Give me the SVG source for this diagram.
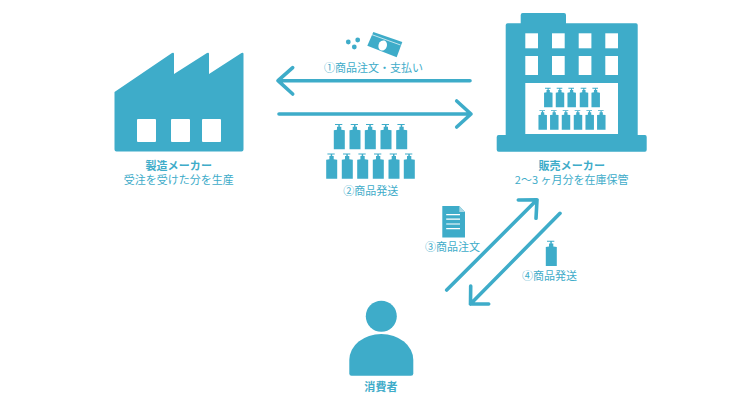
<svg xmlns="http://www.w3.org/2000/svg" width="750" height="400" viewBox="0 0 750 400">
<style>
.t{font-family:"Noto Sans CJK JP","Liberation Sans",sans-serif;font-size:11px;fill:#3eacc9;text-anchor:middle}
.b{font-weight:700;letter-spacing:.1px}
.f{fill:#3eacc9}
.w{fill:#fff}
.a{fill:none;stroke:#3eacc9;stroke-width:3.6;stroke-linecap:round;stroke-linejoin:round}
</style>
<defs>
<g id="bottle"><path class="f" d="M-4.300 0.700H3V1.800H0.500V3.400H2V6.500L5.500 7V26H-5.500V7L-2.300 6.500V3.400H-1V1.800H-4.300Z"/></g>
</defs>
<rect width="750" height="400" fill="#fff"/>
<g id="connectors">
<path class="a" d="M470 80.700H278M292.700 67.700L278 80.700L292.700 94"/>
<path class="a" d="M279 114H471M456.700 101L471 114L456.700 127"/>
<path class="a" d="M446.700 290L537 199.800M518.300 200L537 199.800L536 218.300"/>
<path class="a" d="M560 213.300L470.500 304M470.700 286L470.500 304L488.700 304"/>
</g>
<g id="factory">
<path class="f" d="M114.500 92L172 53Q174 52 174 54V74L207 53Q209 52 209 54V74L241.500 53Q243.500 52 243.500 54V149.500Q243.500 151.500 241.500 151.500H116.500Q114.500 151.500 114.500 149.500Z"/>
<rect class="w" x="137" y="119" width="19" height="23" rx="1"/>
<rect class="w" x="171" y="119" width="19" height="23" rx="1"/>
<rect class="w" x="202" y="119" width="19" height="23" rx="1"/>
<text class="t b" x="178.700" y="170">製造メーカー</text>
<text class="t" x="178.700" y="184">受注を受けた分を生産</text>
</g>
<g id="retailer">
<path class="f" d="M520.700 23.300V15Q520.700 13 522.700 13H564Q566 13 566 15V23.300H636Q637.700 23.300 637.700 25V135H645Q646.700 135 646.700 137V149.700Q646.700 151.700 645 151.700H498.700Q496.700 151.700 496.700 149.700V137Q496.700 135 498.700 135H505.700V25Q505.700 23.300 507.700 23.300Z"/>
<rect class="w" x="525.300" y="33.300" width="12.700" height="15"/>
<rect class="w" x="552" y="33.300" width="12.700" height="15"/>
<rect class="w" x="578.700" y="33.300" width="12.700" height="15"/>
<rect class="w" x="605.300" y="33.300" width="12.700" height="15"/>
<rect class="w" x="525.300" y="56" width="12.700" height="19"/>
<rect class="w" x="552" y="56" width="12.700" height="19"/>
<rect class="w" x="578.700" y="56" width="12.700" height="19"/>
<rect class="w" x="605.300" y="56" width="12.700" height="19"/>
<rect class="w" x="525.300" y="83" width="92.700" height="51"/>
<use href="#bottle" transform="translate(548.300 87.300) scale(.77)"/>
<use href="#bottle" transform="translate(560 87.300) scale(.77)"/>
<use href="#bottle" transform="translate(571.700 87.300) scale(.77)"/>
<use href="#bottle" transform="translate(584 87.300) scale(.77)"/>
<use href="#bottle" transform="translate(595.700 87.300) scale(.77)"/>
<use href="#bottle" transform="translate(542.700 109.700) scale(.77)"/>
<use href="#bottle" transform="translate(554.300 109.700) scale(.77)"/>
<use href="#bottle" transform="translate(566 109.700) scale(.77)"/>
<use href="#bottle" transform="translate(578 109.700) scale(.77)"/>
<use href="#bottle" transform="translate(589.700 109.700) scale(.77)"/>
<use href="#bottle" transform="translate(601.300 109.700) scale(.77)"/>
<text class="t b" x="571.700" y="170">販売メーカー</text>
<text class="t" x="571.700" y="184">2〜3 ヶ月分を在庫保管</text>
</g>
<g id="payment">
<circle class="f" cx="348.300" cy="42" r="2.400"/>
<circle class="f" cx="357.700" cy="40" r="2.400"/>
<circle class="f" cx="354.300" cy="47" r="2.400"/>
<path class="f" d="M373.300 32L402.300 42L396.700 57.300L367.300 45.700Z"/>
<path d="M371.500 34.500L400.500 45" fill="none" stroke="#fff" stroke-width=".7"/>
<ellipse class="w" cx="382.700" cy="45.500" rx="4.200" ry="5.200" transform="rotate(20 382.700 45.500)"/>
<text class="t" x="373.500" y="72">①商品注文・支払い</text>
</g>
<g id="shipment">
<use href="#bottle" transform="translate(339.300 123.300)"/>
<use href="#bottle" transform="translate(355 123.300)"/>
<use href="#bottle" transform="translate(370.300 123.300)"/>
<use href="#bottle" transform="translate(386 123.300)"/>
<use href="#bottle" transform="translate(401.700 123.300)"/>
<use href="#bottle" transform="translate(331.700 152.700)"/>
<use href="#bottle" transform="translate(347.300 152.700)"/>
<use href="#bottle" transform="translate(362.700 152.700)"/>
<use href="#bottle" transform="translate(378.300 152.700)"/>
<use href="#bottle" transform="translate(394 152.700)"/>
<use href="#bottle" transform="translate(409.300 152.700)"/>
<text class="t" x="370.700" y="195">②商品発送</text>
</g>
<g id="order">
<path class="f" d="M442.300 206H459.300L465 212V237.500H442.300Z"/>
<path d="M459.300 206V212H465Z" fill="#a9d9e6"/>
<path d="M446.200 214.700H460M446.200 219.200H460M446.200 224H460M446.200 228.700H460" fill="none" stroke="#fff" stroke-width="1.200"/>
<text class="t" x="452.500" y="250.500">③商品注文</text>
</g>
<g id="single-shipment">
<use href="#bottle" transform="translate(551.300 240)"/>
<text class="t" x="549.500" y="280">④商品発送</text>
</g>
<g id="consumer">
<circle class="f" cx="381.300" cy="316.300" r="15.500"/>
<path class="f" d="M349.300 360A32 26 0 0 1 381.300 334A32 26 0 0 1 413.300 360V373.500Q413.300 375.700 411 375.700H351.500Q349.300 375.700 349.300 373.500Z"/>
<text class="t b" x="381" y="391">消費者</text>
</g>
</svg>
